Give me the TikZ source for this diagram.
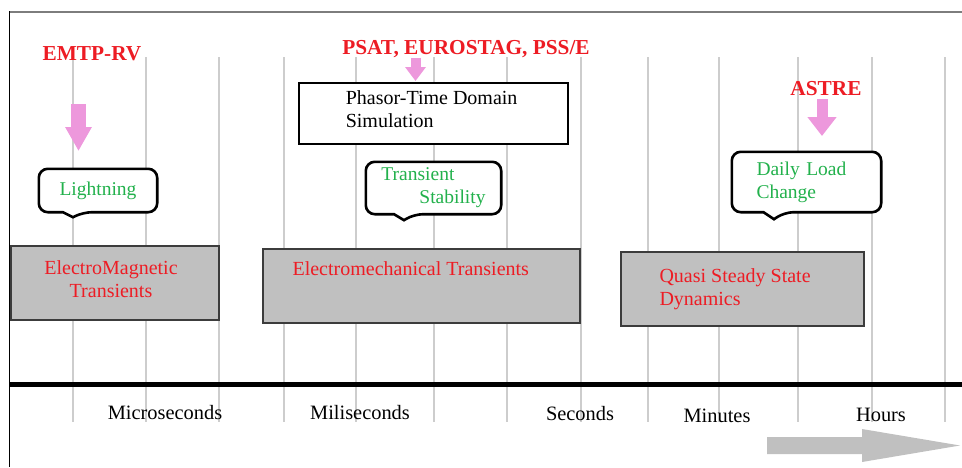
\documentclass[tikz,border=0pt]{standalone}
\usepackage{fontspec}
\setmainfont{Liberation Serif}
\usetikzlibrary{arrows.meta, positioning}
\definecolor{txtred}{RGB}{237,28,36}
\definecolor{txtgreen}{RGB}{34,177,76}
\definecolor{toolpink}{RGB}{237,152,220}
\definecolor{boxgray}{RGB}{192,192,192}
\definecolor{bandedge}{RGB}{60,60,60}
\definecolor{gridgray}{RGB}{205,205,205}
\definecolor{framegray}{RGB}{125,125,125}
\pgfdeclarelayer{grid}
\pgfdeclarelayer{bubbles}
\pgfsetlayers{grid,bubbles,main}

\begin{document}
\begin{tikzpicture}[
    x=1pt, y=-1pt,
    every node/.style={font=\fontsize{19.5}{23}\selectfont, inner sep=0pt},
    tool/.style={font=\fontsize{21.3}{25}\selectfont\bfseries, text=txtred},
    band/.style={draw=bandedge, line width=1.3pt, fill=boxgray, minimum height=74pt},
    bandtext/.style={font=\fontsize{20}{23}\selectfont, text=txtred},
    event/.style={text=txtgreen, align=left},
    bubble/.style={draw=black, line width=2.6pt, fill=white, rounded corners=9pt},
    tick/.style={gridgray, line width=1.5pt},
    unit/.style={font=\fontsize{20.4}{24}\selectfont, text=black},
    toolarr/.style={toolpink},
]
\useasboundingbox (0,0) rectangle (962,467);

% Frame and grid
\draw[framegray, line width=2pt] (9,11.5) -- (962,11.5);
\draw[line width=1.5pt] (9.5,11) -- (9.5,467);
\begin{pgfonlayer}{grid}
\foreach \gx in {73,146,219,284,356,434,507,581,648,719,798,872,945}
    \draw[tick] (\gx,57) -- (\gx,422);
\end{pgfonlayer}

% Time axis
\coordinate (axisL) at (9,384);
\coordinate (axisR) at (962,384);
\draw[line width=5pt] (axisL) -- (axisR);

\node[unit] (usec) at (165,413) {Microseconds};
\node[unit] (msec) at (360,413) {Miliseconds};
\node[unit] (sec)  at (580,414) {Seconds};
\node[unit] (mins) at (717,416) {Minutes};
\node[unit] (hrs)  at (881,415) {Hours};

% Phenomena bands
\node[band, minimum width=208pt] (emt) at (115,283) {};
\node[bandtext, align=center] (emttxt) at (111,279.5) {ElectroMagnetic\\Transients};
\node[band, minimum width=317pt] (emech) at (421.5,286) {};
\node[bandtext, anchor=west] (emechtxt) at ([xshift=30pt,yshift=-20pt]emech.north west)
    {Electromechanical Transients};
\node[band, minimum width=243pt] (qss) at (742.5,289) {};
\node[bandtext, align=left, anchor=west] (qsstxt) at ([xshift=39pt]qss.west)
    {Quasi Steady State\\Dynamics};

% Phasor box
\node[draw, line width=2.8pt, fill=white, minimum width=269pt, minimum height=61pt]
    (phasor) at (433.5,113.5) {};
\node[font=\fontsize{20}{23}\selectfont, align=left, anchor=west] (phasortxt)
    at ([xshift=48pt,yshift=4pt]phasor.west) {Phasor-Time Domain\\Simulation};

% Events (callouts)
\node[event, minimum width=118pt, minimum height=43pt] (light) at (98,190.5) {Lightning};
\node[event, minimum width=135pt, minimum height=52pt] (trans) at (433.5,188)
    {Transient\\\hspace*{38pt}Stability};
\node[event, minimum width=149pt, minimum height=60pt, text width=100pt] (daily) at (806.5,182)
    {Daily Load\\Change};

\begin{pgfonlayer}{bubbles}
\draw[bubble] (light.north) -- (light.north east) -- (light.south east)
    -- ([xshift=-15pt]light.south) [sharp corners] -- ([xshift=-25pt,yshift=-5pt]light.south)
    -- ([xshift=-35pt]light.south) [rounded corners=9pt] -- (light.south west)
    -- (light.north west) -- cycle;
\draw[bubble] (trans.north) -- (trans.north east) -- (trans.south east)
    -- ([xshift=-19.5pt]trans.south) [sharp corners] -- ([xshift=-29.5pt,yshift=-6pt]trans.south)
    -- ([xshift=-39.5pt]trans.south) [rounded corners=9pt] -- (trans.south west)
    -- (trans.north west) -- cycle;
\draw[bubble] (daily.north) -- (daily.north east) -- (daily.south east)
    -- ([xshift=-22pt]daily.south) [sharp corners] -- ([xshift=-32.5pt,yshift=-7pt]daily.south)
    -- ([xshift=-43pt]daily.south) [rounded corners=9pt] -- (daily.south west)
    -- (daily.north west) -- cycle;
\end{pgfonlayer}

% Tools
\node[tool] (emtp)  at (92,54)  {EMTP-RV};
\node[tool] (psat)  at (466,49) {PSAT, EUROSTAG, PSS/E};
\node[tool] (astre) at (826,89) {ASTRE};

\coordinate (emtpA)  at (78.5,104);
\coordinate (emtpB)  at (78.5,151);
\coordinate (psatA)  at (415.5,57.5);
\coordinate (psatB)  at (415.5,81);
\coordinate (astreA) at (822,99);
\coordinate (astreB) at (822,136);
\draw[toolarr, line width=15pt, -{Triangle[width=25pt, length=24pt]}] (emtpA) -- (emtpB);
\draw[toolarr, line width=10pt, -{Triangle[width=20pt, length=14pt]}] (psatA) -- (psatB);
\draw[toolarr, line width=11pt, -{Triangle[width=28pt, length=19pt]}] (astreA) -- (astreB);

% Time direction
\fill[boxgray] (767,437) -- (862,437) -- (862,429) -- (960,445.5)
    -- (862,462) -- (862,454) -- (767,454) -- cycle;
\end{tikzpicture}
\end{document}
